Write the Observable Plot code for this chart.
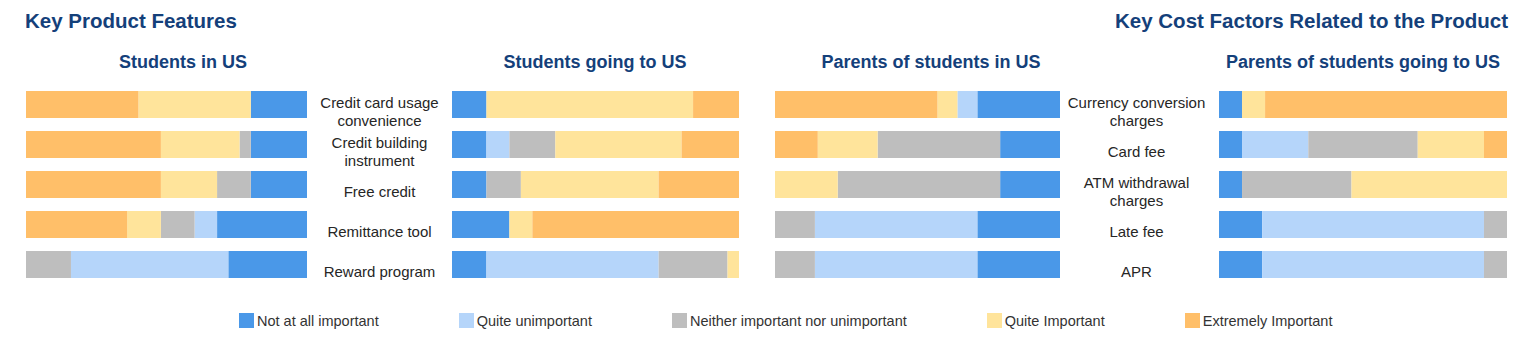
<!DOCTYPE html>
<html>
<head>
<meta charset="utf-8">
<script src="https://cdn.jsdelivr.net/npm/d3@7"></script>
<script src="https://cdn.jsdelivr.net/npm/@observablehq/plot@0.6"></script>
<style>
  html, body { margin: 0; padding: 0; background: #fff; }
  body { font-family: "Liberation Sans", Arial, sans-serif; }
  #root { position: relative; width: 1538px; height: 338px; overflow: hidden; }
  .abs { position: absolute; }
  .title { font-size: 20.5px; font-weight: bold; color: #14407A; white-space: nowrap; }
  .sub { font-size: 18px; font-weight: bold; color: #14407A; white-space: nowrap; transform: translateX(-50%); }
  #legend .lg-swatches { font-size: 14.5px; font-family: "Liberation Sans", Arial, sans-serif; color: #333; }
  #legend .lg-swatch { margin-right: 80px !important; }
  #legend .lg-swatch > svg { margin-right: 3px !important; }
</style>
</head>
<body>
<div id="root">
  <div class="abs title" style="left:25px; top:9px;">Key Product Features</div>
  <div class="abs title" style="right:30px; top:9px;">Key Cost Factors Related to the Product</div>
</div>
<script>
// ---- data ----
const levels = ["Not at all important", "Quite unimportant", "Neither important nor unimportant", "Quite Important", "Extremely Important"];
const levelColors = ["#4A98E8", "#B5D5FA", "#BEBEBE", "#FFE49B", "#FFBF69"];

const featureLabels = ["Credit card usage\nconvenience", "Credit building\ninstrument", "Free credit", "Remittance tool", "Reward program"];
const costLabels = ["Currency conversion\ncharges", "Card fee", "ATM withdrawal\ncharges", "Late fee", "APR"];

// each row: [Not at all, Quite unimportant, Neither, Quite Important, Extremely] (%)
const studentsInUS      = [[20, 0, 0, 40, 40], [20, 0, 4, 28, 48], [20, 0, 12, 20, 48], [32, 8, 12, 12, 36], [28, 56, 16, 0, 0]];
const studentsGoingToUS = [[12, 0, 0, 72, 16], [12, 8, 16, 44, 20], [12, 0, 12, 48, 28], [20, 0, 0, 8, 72], [12, 60, 24, 4, 0]];
const parentsInUS       = [[29, 7, 0, 7, 57], [21, 0, 43, 21, 15], [21, 0, 57, 22, 0], [29, 57, 14, 0, 0], [29, 57, 14, 0, 0]];
const parentsGoingToUS  = [[8, 0, 0, 8, 84], [8, 23, 38, 23, 8], [8, 0, 38, 54, 0], [15, 77, 8, 0, 0], [15, 77, 8, 0, 0]];

const panelTitles = ["Students in US", "Students going to US", "Parents of students in US", "Parents of students going to US"];

// ---- layout ----
const root = document.getElementById("root");
const FONT = "Liberation Sans, Arial, sans-serif";
const TOP = 75, H = 218, PAD = 0.33;

function place(el, left, top) {
  el.classList.add("abs");
  el.style.left = left + "px";
  el.style.top = top + "px";
  root.appendChild(el);
}

function panel(rows, labels, reversed, left, width) {
  const data = [];
  rows.forEach((r, i) => r.forEach((v, j) => { if (v > 0) data.push({row: labels[i], level: levels[j], value: v}); }));
  const order = reversed ? levels.slice().reverse() : levels;
  const p = Plot.plot({
    width, height: H,
    marginLeft: 0, marginRight: 0, marginTop: 0, marginBottom: 0,
    x: {domain: [0, 100], axis: null},
    y: {type: "band", domain: labels, axis: null, padding: PAD},
    color: {domain: levels, range: levelColors},
    marks: [
      Plot.barX(data, Plot.stackX({x: "value", y: "row", fill: "level", order, inset: 0}))
    ]
  });
  place(p, left, TOP);
}

function labelColumn(labels, left, width) {
  const p = Plot.plot({
    width, height: H,
    marginLeft: 0, marginRight: 0, marginTop: 0, marginBottom: 0,
    y: {type: "band", domain: labels, axis: null, padding: PAD},
    style: {fontFamily: FONT, overflow: "visible"},
    marks: [
      Plot.text(labels, {y: d => d, text: d => d, frameAnchor: "middle", fontSize: 15, fill: "#262626", lineHeight: 1.25, dy: 6})
    ]
  });
  place(p, left, TOP);
}

panel(studentsInUS, featureLabels, true, 26, 281);
panel(studentsGoingToUS, featureLabels, false, 452, 287);
panel(parentsInUS, costLabels, true, 775, 285);
panel(parentsGoingToUS, costLabels, false, 1219, 288);

labelColumn(featureLabels, 307, 144);
labelColumn(costLabels, 1062, 148);

const subCenters = [183, 595, 931, 1363];
panelTitles.forEach((t, i) => {
  const d = document.createElement("div");
  d.className = "sub";
  d.textContent = t;
  place(d, subCenters[i], 52);
});

const legend = Plot.legend({
  color: {type: "ordinal", domain: levels, range: levelColors},
  legend: "swatches",
  swatchSize: 15,
  className: "lg"
});
const lw = document.createElement("div");
lw.id = "legend";
lw.appendChild(legend);
lw.style.width = "1250px";
place(lw, 239, 304);
</script>
</body>
</html>
